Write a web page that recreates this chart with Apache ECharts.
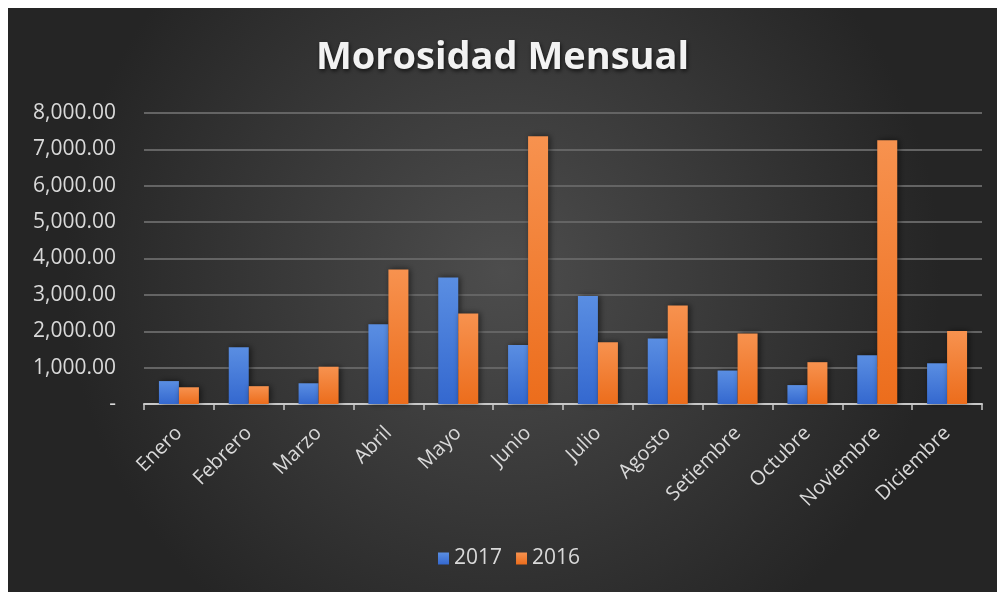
<!DOCTYPE html>
<html>
<head>
<meta charset="utf-8">
<script src="https://cdn.jsdelivr.net/npm/echarts@6/dist/echarts.min.js"></script>
<style>
  html, body { margin: 0; padding: 0; background: #ffffff; }
  #chart { position: absolute; left: 8px; top: 8px; width: 989px; height: 584px; }
</style>
</head>
<body>
<div id="chart"></div>
<script>
const meses = ['Enero', 'Febrero', 'Marzo', 'Abril', 'Mayo', 'Junio', 'Julio', 'Agosto', 'Setiembre', 'Octubre', 'Noviembre', 'Diciembre']
const serie2017 = [630, 1560, 570, 2190, 3480, 1620, 2970, 1800, 920, 520, 1340, 1120]
const serie2016 = [460, 490, 1025, 3700, 2490, 7360, 1695, 2710, 1940, 1150, 7250, 2010]
const yMax = 8000
const yInterval = 1000

const chart = echarts.init(document.getElementById('chart'))

function fmt(v) {
  if (v === 0) return '-'
  return v.toLocaleString('en-US', { minimumFractionDigits: 2, maximumFractionDigits: 2 })
}

function barStyle(top, bottom) {
  return {
    color: new echarts.graphic.LinearGradient(0, 0, 0, 1, [
      { offset: 0, color: top },
      { offset: 1, color: bottom }
    ]),
    shadowColor: 'rgba(0,0,0,0.55)',
    shadowBlur: 6,
    shadowOffsetX: 2,
    shadowOffsetY: 0
  }
}

const font = '"Open Sans", "Noto Sans", sans-serif'

chart.setOption({
  backgroundColor: new echarts.graphic.RadialGradient(0.5, 0.45, 0.75, [
    { offset: 0, color: '#4d4d4d' },
    { offset: 1, color: '#252525' }
  ]),
  animation: false,
  title: {
    text: 'Morosidad Mensual',
    left: 'center',
    top: 26,
    textStyle: {
      color: '#f2f2f2',
      fontFamily: font,
      fontSize: 38,
      fontWeight: 'bold',
      textShadowColor: 'rgba(0,0,0,0.7)',
      textShadowBlur: 4,
      textShadowOffsetX: 1,
      textShadowOffsetY: 2
    }
  },
  legend: {
    data: ['2017', '2016'],
    left: 425,
    top: 535,
    itemWidth: 11,
    itemHeight: 12,
    itemGap: 14,
    icon: 'rect',
    textStyle: { color: '#d9d9d9', fontFamily: font, fontSize: 21 }
  },
  grid: { left: 136, right: 15, top: 105, bottom: 188 },
  xAxis: {
    type: 'category',
    data: meses,
    axisLine: { lineStyle: { color: '#c8c8c8', width: 2 } },
    axisTick: { show: true, length: 6, lineStyle: { color: '#c8c8c8', width: 1.5 } },
    axisLabel: {
      color: '#d9d9d9',
      fontFamily: font,
      fontSize: 20,
      rotate: 45,
      margin: 26
    }
  },
  yAxis: {
    type: 'value',
    min: 0,
    max: yMax,
    interval: yInterval,
    axisLine: { show: false },
    axisTick: { show: false },
    splitLine: { lineStyle: { color: '#646464', width: 2 } },
    axisLabel: {
      color: '#d9d9d9',
      fontFamily: font,
      fontSize: 21,
      margin: 28,
      formatter: fmt
    }
  },
  series: [
    {
      name: '2017',
      type: 'bar',
      data: serie2017,
      barWidth: 20,
      barGap: '0%',
      itemStyle: barStyle('#5a8ee2', '#3468cf')
    },
    {
      name: '2016',
      type: 'bar',
      data: serie2016,
      barWidth: 20,
      itemStyle: barStyle('#f7924f', '#ec6d1c')
    }
  ]
})
</script>
</body>
</html>
